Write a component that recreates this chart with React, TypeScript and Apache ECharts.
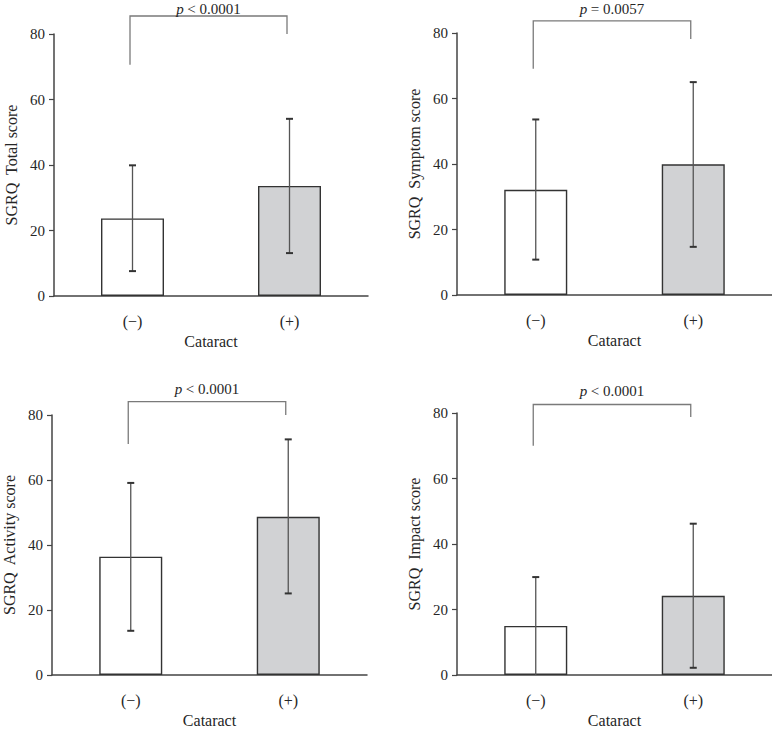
import React, { useEffect, useRef } from "react";
import * as echarts from "echarts";

const categories = ["(−)", "(+)"];
const yNames = ["SGRQ  Total score", "SGRQ  Symptom score", "SGRQ  Activity score", "SGRQ  Impact score"];
const xName = "Cataract";
const yTicks = [0, 20, 40, 60, 80];

const totalMeans = [23.7, 33.6];
const totalLower = [7.6, 13.1];
const totalUpper = [39.9, 54.1];

const symptomMeans = [32.1, 39.9];
const symptomLower = [10.8, 14.7];
const symptomUpper = [53.6, 65.0];

const activityMeans = [36.4, 48.7];
const activityLower = [13.6, 25.1];
const activityUpper = [59.1, 72.5];

const impactMeans = [15.0, 24.2];
const impactLower = [0, 2.2];
const impactUpper = [29.9, 46.2];

// bracket: [left leg bottom, top, right leg bottom]
const totalBracket = [70.6, 85.5, 80.0];
const symptomBracket = [69.1, 83.7, 78.2];
const activityBracket = [71.1, 84.1, 80.0];
const impactBracket = [70.0, 82.6, 78.8];

const pSigns = ["< 0.0001", "= 0.0057", "< 0.0001", "< 0.0001"];

const FONT = "'Liberation Serif', 'Times New Roman', serif";
const TEXT = "#262626";

export default function App() {
  const ref = useRef<HTMLDivElement>(null);

  useEffect(() => {
    document.body.style.margin = "0";
    if (!ref.current) return;
    const chart = echarts.init(ref.current, null, { renderer: "svg" });

    const grids = [
      { left: 54, top: 34, width: 314, height: 262 },
      { left: 457, top: 33, width: 315, height: 262 },
      { left: 52, top: 415, width: 315, height: 262 },
      { left: 457, top: 413, width: 315, height: 262 },
    ];
    const means = [totalMeans, symptomMeans, activityMeans, impactMeans];
    const lowers = [totalLower, symptomLower, activityLower, impactLower];
    const uppers = [totalUpper, symptomUpper, activityUpper, impactUpper];
    const brackets = [totalBracket, symptomBracket, activityBracket, impactBracket];
    const fills = ["#ffffff", "#d1d2d4"];

    const xAxis: any[] = [];
    const yAxis: any[] = [];
    const series: any[] = [];

    grids.forEach((g, i) => {
      xAxis.push({
        type: "category",
        gridIndex: i,
        data: categories,
        axisLine: { show: true, lineStyle: { color: "#444", width: 1.5 } },
        axisTick: { show: false },
        axisLabel: { color: TEXT, fontFamily: FONT, fontSize: 16, margin: 17 },
        name: xName,
        nameLocation: "middle",
        nameGap: 37,
        nameTextStyle: { color: TEXT, fontFamily: FONT, fontSize: 16 },
      });
      yAxis.push({
        type: "value",
        gridIndex: i,
        min: yTicks[0],
        max: yTicks[yTicks.length - 1],
        interval: 20,
        axisLine: { show: true, lineStyle: { color: "#444", width: 1.5 } },
        axisTick: { show: true, length: 5, lineStyle: { color: "#444", width: 1.2 } },
        splitLine: { show: false },
        axisLabel: { color: TEXT, fontFamily: FONT, fontSize: 15, margin: 9 },
        name: yNames[i],
        nameLocation: "middle",
        nameGap: 35,
        nameTextStyle: { color: TEXT, fontFamily: FONT, fontSize: 16 },
      });
      series.push({
        type: "bar",
        xAxisIndex: i,
        yAxisIndex: i,
        barWidth: 63,
        data: means[i].map((v, k) => ({
          value: v,
          itemStyle: { color: fills[k], borderColor: "#333", borderWidth: 1.4 },
        })),
        z: 2,
      });
      series.push({
        type: "custom",
        xAxisIndex: i,
        yAxisIndex: i,
        z: 3,
        data: lowers[i].map((lo, k) => [k, lo, uppers[i][k]]),
        renderItem: (params: any, api: any) => {
          const lo = api.coord([api.value(0), api.value(1)]);
          const hi = api.coord([api.value(0), api.value(2)]);
          const hw = 3.5;
          const st = { stroke: "#555", lineWidth: 1.3 };
          const children: any[] = [
            { type: "line", shape: { x1: hi[0], y1: hi[1], x2: lo[0], y2: lo[1] }, style: st },
            { type: "line", shape: { x1: hi[0] - hw, y1: hi[1], x2: hi[0] + hw, y2: hi[1] }, style: { stroke: "#333", lineWidth: 2 } },
          ];
          if (api.value(1) > 0) {
            children.push({ type: "line", shape: { x1: lo[0] - hw, y1: lo[1], x2: lo[0] + hw, y2: lo[1] }, style: { stroke: "#333", lineWidth: 2 } });
          }
          return { type: "group", children };
        },
      });
      series.push({
        type: "custom",
        xAxisIndex: i,
        yAxisIndex: i,
        z: 3,
        clip: false,
        data: [[0, brackets[i][0], brackets[i][1], brackets[i][2]]],
        renderItem: (params: any, api: any) => {
          const lb = api.coord([0, api.value(1)]);
          const lt = api.coord([0, api.value(2)]);
          const rt = api.coord([1, api.value(2)]);
          const rb = api.coord([1, api.value(3)]);
          const dx = -2.5;
          return {
            type: "group",
            children: [
              {
                type: "polyline",
                shape: {
                  points: [
                    [lb[0] + dx, lb[1]],
                    [lt[0] + dx, lt[1]],
                    [rt[0] + dx, rt[1]],
                    [rb[0] + dx, rb[1]],
                  ],
                },
                style: { stroke: "#7a7a7a", lineWidth: 1.3, fill: null },
              },
              {
                type: "text",
                x: (lt[0] + rt[0]) / 2 + dx,
                y: Math.max(lt[1] - 13, 9),
                style: {
                  text: "{i|p} {n|" + pSigns[i] + "}",
                  align: "center",
                  verticalAlign: "middle",
                  rich: {
                    i: { fontFamily: FONT, fontSize: 15, lineHeight: 16, fontStyle: "italic", fill: TEXT, color: TEXT },
                    n: { fontFamily: FONT, fontSize: 15, lineHeight: 16, fill: TEXT, color: TEXT },
                  },
                },
              },
            ],
          };
        },
      });
    });

    chart.setOption({
      animation: false,
      backgroundColor: "#ffffff",
      grid: grids.map((g) => ({ ...g, containLabel: false })),
      xAxis,
      yAxis,
      series,
    });

    return () => chart.dispose();
  }, []);

  return <div ref={ref} style={{ width: 772, height: 729 }} />;
}
